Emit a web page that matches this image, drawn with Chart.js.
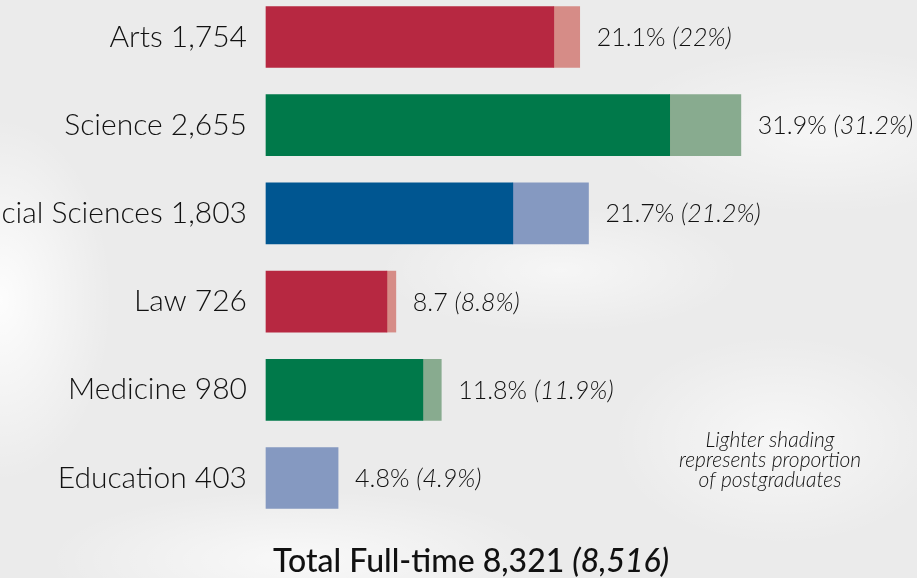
<!DOCTYPE html>
<html>
<head>
<meta charset="utf-8">
<script src="https://cdn.jsdelivr.net/npm/chart.js@4"></script>
<style>
  html, body { margin: 0; padding: 0; }
  body {
    width: 917px; height: 578px; overflow: hidden;
    background:
      radial-gradient(ellipse 160px 260px at 0px 300px, rgba(255,255,255,0.9), rgba(255,255,255,0) 70%),
      radial-gradient(ellipse 300px 120px at 820px 130px, rgba(255,255,255,0.55), rgba(255,255,255,0) 70%),
      radial-gradient(ellipse 260px 90px at 560px 270px, rgba(255,255,255,0.55), rgba(255,255,255,0) 70%),
      radial-gradient(ellipse 360px 100px at 300px 560px, rgba(255,255,255,0.7), rgba(255,255,255,0) 70%),
      radial-gradient(ellipse 240px 150px at 780px 440px, rgba(255,255,255,0.6), rgba(255,255,255,0) 70%),
      #ebebeb;
  }
  #wrap { position: absolute; left: 0; top: 0; width: 917px; height: 578px; }
</style>
</head>
<body>
<div id="wrap"><canvas id="c" width="917" height="578"></canvas></div>
<script>
const categories = ["Arts", "Science", "Social Sciences", "Law", "Medicine", "Education"];
const undergrad = [1609, 2257, 1380, 676, 877, 0];
const postgrad  = [145, 398, 423, 50, 103, 403];
const pctLabels  = ["21.1%", "31.9%", "21.7%", "8.7", "11.8%", "4.8%"];
const prevLabels = ["(22%)", "(31.2%)", "(21.2%)", "(8.8%)", "(11.9%)", "(4.9%)"];
const darkColors  = ["#b72841", "#00794a", "#005691", "#b72841", "#00794a", "#005691"];
const lightColors = ["#d68c87", "#88ab8f", "#8599c1", "#d68c87", "#88ab8f", "#8599c1"];
const totalText = "Total Full-time 8,321";
const totalPrev = "(8,516)";
const noteLines = ["Lighter shading", "represents proportion", "of postgraduates"];

const totals = undergrad.map((u, i) => u + postgrad[i]);
const tickLabels = categories.map((c, i) => c + " " + totals[i].toLocaleString("en-US"));

const FONT = "Lato, 'Open Sans', sans-serif";
const INK = "#111111";

const labelPlugin = {
  id: "labels",
  afterDatasetsDraw(chart) {
    const ctx = chart.ctx;
    const meta0 = chart.getDatasetMeta(0);
    const meta1 = chart.getDatasetMeta(1);
    ctx.save();
    ctx.fillStyle = INK;
    ctx.textBaseline = "middle";
    ctx.textAlign = "left";
    categories.forEach((c, i) => {
      const el = postgrad[i] > 0 ? meta1.data[i] : meta0.data[i];
      const x = el.x + 17;
      const y = el.y + 1;
      ctx.font = "300 25px " + FONT;
      ctx.fillText(pctLabels[i], x, y);
      const w = ctx.measureText(pctLabels[i] + " ").width;
      ctx.font = "italic 300 25px " + FONT;
      ctx.fillText(prevLabels[i], x + w, y);
    });
    // note
    ctx.textAlign = "center";
    ctx.font = "italic 300 21px " + FONT;
    noteLines.forEach((t, k) => ctx.fillText(t, 770, 440 + k * 20));
    // total
    ctx.textAlign = "left";
    ctx.font = "500 32px " + FONT;
    const w1 = ctx.measureText(totalText + " ").width;
    ctx.font = "italic 500 32px " + FONT;
    const w2 = ctx.measureText(totalPrev).width;
    const start = 471 - (w1 + w2) / 2;
    ctx.textBaseline = "alphabetic";
    ctx.font = "500 32px " + FONT;
    ctx.fillText(totalText, start, 572);
    ctx.font = "italic 500 32px " + FONT;
    ctx.fillText(totalPrev, start + w1, 572);
    ctx.restore();
  }
};

new Chart(document.getElementById("c"), {
  type: "bar",
  data: {
    labels: tickLabels,
    datasets: [
      { data: undergrad.map(v => v > 0 ? v : null), backgroundColor: darkColors, barThickness: 61, clip: false, borderWidth: 0 },
      { data: postgrad, backgroundColor: lightColors, barThickness: 61, clip: false, borderWidth: 0 }
    ]
  },
  options: {
    indexAxis: "y",
    responsive: false,
    animation: false,
    events: [],
    layout: { padding: { top: 32, bottom: 100, left: 0, right: 25 } },
    plugins: { legend: { display: false }, tooltip: { enabled: false }, title: { display: false } },
    scales: {
      x: { stacked: true, min: 0, max: 3500, display: false },
      y: {
        stacked: true,
        offset: false,
        grid: { display: false, drawTicks: false },
        border: { display: false },
        ticks: { color: INK, padding: 19, font: { family: FONT, size: 30, weight: "300" } },
        afterFit(scale) { scale.width = 266; }
      }
    }
  },
  plugins: [labelPlugin]
});
</script>
</body>
</html>
